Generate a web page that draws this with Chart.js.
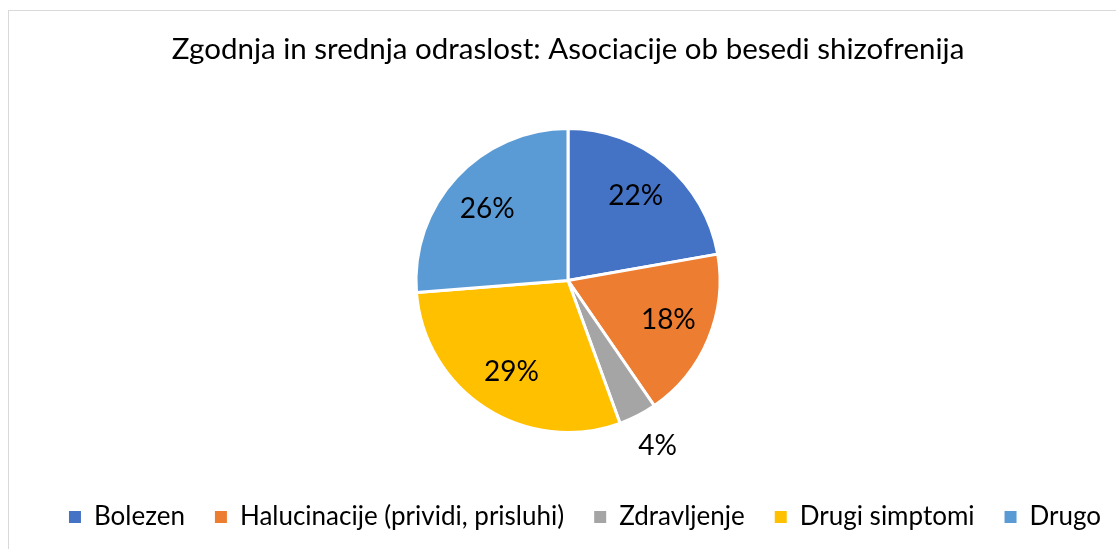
<!DOCTYPE html>
<html>
<head>
<meta charset="utf-8">
<script src="https://cdn.jsdelivr.net/npm/chart.js@4/dist/chart.umd.min.js"></script>
<style>
  html, body { margin: 0; padding: 0; background: #fff; }
  canvas { display: block; }
</style>
</head>
<body>
<canvas id="graf_pita" width="1116" height="549"></canvas>
<script>
// podatki
const kategorije = ['Bolezen', 'Halucinacije (prividi, prisluhi)', 'Zdravljenje', 'Drugi simptomi', 'Drugo']
const deleži = [22, 18, 4, 29, 26]
const barve = ['#4472C4', '#ED7D31', '#A5A5A5', '#FFC000', '#5B9BD5']
const naslov = 'Zgodnja in srednja odraslost: Asociacije ob besedi shizofrenija'

const pisava = 'Lato, "Open Sans", sans-serif'

// okvir grafa (kot v Excelu)
const okvir = {
  id: 'okvir',
  beforeDraw(chart) {
    const c = chart.ctx
    c.save()
    c.fillStyle = '#fff'
    c.fillRect(0, 0, chart.width, chart.height)
    c.strokeStyle = '#d9d9d9'
    c.lineWidth = 1
    c.strokeRect(8.5, 10.5, 2000, 2000)
    c.restore()
  }
}

// legenda je v izvirniku malo bolj desno
const zamikLegende = {
  id: 'zamikLegende',
  afterLayout(chart) {
    chart.legend.left += 17
    chart.legend.right += 17
  }
}

// odstotki na rezinah
const oznake = {
  id: 'oznake',
  afterDatasetsDraw(chart) {
    const c = chart.ctx
    const meta = chart.getDatasetMeta(0)
    c.save()
    c.font = '28px ' + pisava
    c.fillStyle = '#000'
    c.textAlign = 'center'
    c.textBaseline = 'middle'
    meta.data.forEach((arc, i) => {
      const kot = (arc.startAngle + arc.endAngle) / 2 - 0.02
      const zunaj = deleži[i] < 5
      const r = arc.outerRadius * (zunaj ? 1.24 : 0.71)
      c.fillText(deleži[i] + '%', arc.x + Math.cos(kot) * r, arc.y + Math.sin(kot) * r)
    })
    c.restore()
  }
}

const data = {
  labels: kategorije,
  datasets: [{
    data: deleži,
    backgroundColor: barve,
    borderColor: '#fff',
    borderWidth: 3
  }]
}

const config = {
  type: 'pie',
  data,
  options: {
    responsive: false,
    animation: false,
    radius: 152,
    layout: {
      padding: { left: 20, right: 0, top: 0, bottom: 9 }
    },
    plugins: {
      title: {
        display: true,
        text: naslov,
        color: '#000',
        font: { family: pisava, size: 29.5, weight: 'normal' },
        padding: { top: 32, bottom: 19.6 }
      },
      legend: {
        position: 'bottom',
        labels: {
          color: '#000',
          font: { family: pisava, size: 26 },
          boxWidth: 12,
          boxHeight: 12,
          padding: 30,
          generateLabels(chart) {
            return kategorije.map((k, i) => ({
              text: k,
              fillStyle: barve[i],
              strokeStyle: barve[i],
              lineWidth: 0,
              fontColor: '#000',
              index: i
            }))
          }
        }
      },
      tooltip: { enabled: false }
    }
  },
  plugins: [okvir, zamikLegende, oznake]
}

const graf = new Chart(document.getElementById('graf_pita'), config)
</script>
</body>
</html>
